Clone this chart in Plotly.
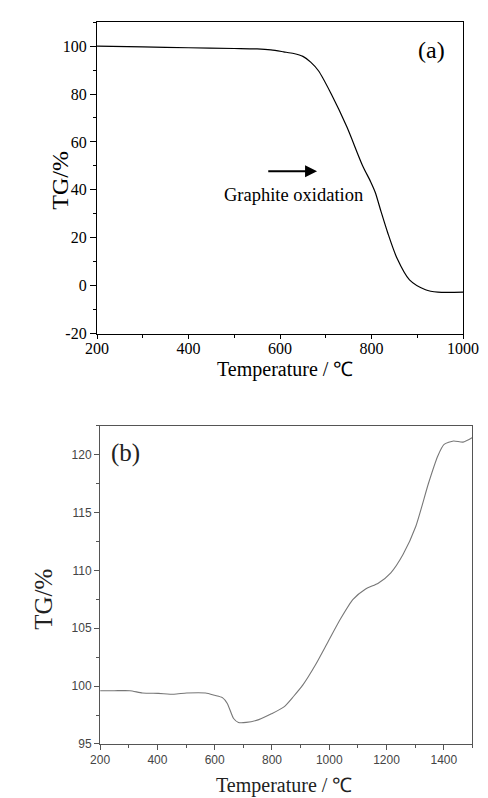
import plotly.graph_objects as go

# Panel (a)
temp_a = [200, 300, 400, 500, 550, 580, 608, 630, 650, 667, 684, 712, 746, 780, 798, 808, 821, 835, 856, 883, 918, 945, 1000]
tg_a = [100.0, 99.7, 99.3, 99.0, 98.8, 98.4, 97.6, 96.9, 95.7, 93.3, 89.7, 80.0, 66.3, 50.3, 43.4, 39.0, 30.8, 22.3, 11.3, 2.4, -1.7, -2.7, -2.7]

# Panel (b)
temp_b = [200, 249, 304, 348, 403, 458, 502, 568, 600, 627, 644, 666, 683, 710, 754, 798, 842, 875, 908, 951,
          995, 1039, 1083, 1127, 1171, 1215, 1258, 1302, 1346, 1379, 1401, 1434, 1467, 1500]
tg_b = [99.6, 99.6, 99.6, 99.4, 99.37, 99.3, 99.4, 99.4, 99.2, 99.0, 98.5, 97.2, 96.86, 96.86, 97.1, 97.6, 98.2,
        99.1, 100.1, 101.8, 103.8, 105.8, 107.5, 108.4, 108.9, 109.8, 111.4, 113.8, 117.5, 119.9, 120.9, 121.2,
        121.1, 121.5]

xticks_a = [200, 400, 600, 800, 1000]
yticks_a = [-20, 0, 20, 40, 60, 80, 100]
ytick_labels_a = ["-20", "0", "20", "40", "60", "80", "100"]
xticks_b = [200, 400, 600, 800, 1000, 1200, 1400]
yticks_b = [95, 100, 105, 110, 115, 120]

W, H = 488, 798
serif = "Liberation Serif"
sans = "Liberation Sans"

fig = go.Figure()
fig.add_trace(go.Scatter(x=temp_a, y=tg_a, mode="lines", line=dict(color="black", width=1.2, shape="spline", smoothing=0.8),
                         xaxis="x", yaxis="y", showlegend=False))
fig.add_trace(go.Scatter(x=temp_b, y=tg_b, mode="lines", line=dict(color="#777777", width=1.1, shape="spline", smoothing=0.6),
                         xaxis="x2", yaxis="y2", showlegend=False))

ax_common_a = dict(showgrid=False, zeroline=False, showline=True, linecolor="black", linewidth=1.3, mirror=True,
                   ticks="outside", tickwidth=1, tickcolor="black",
                   tickfont=dict(family=serif, size=16, color="black"))
ax_common_b = dict(showgrid=False, zeroline=False, showline=True, linecolor="#555555", linewidth=1.2, mirror=True,
                   ticks="outside", ticklen=5, tickwidth=1, tickcolor="#555555",
                   tickfont=dict(family=sans, size=12, color="#444444"))

fig.update_layout(
    width=W, height=H, margin=dict(l=0, r=0, t=0, b=0),
    paper_bgcolor="white", plot_bgcolor="white",
    xaxis=dict(domain=[81.7 / W, 470 / W], range=[200, 1000], tickvals=xticks_a, anchor="y", ticklen=4,
               ticklabelstandoff=-4,
               minor=dict(dtick=100, ticklen=3, ticks="outside", tickcolor="black"), **ax_common_a),
    yaxis=dict(domain=[1 - 329.3 / H, 1 - 14.3 / H], range=[-20, 110], tickvals=yticks_a, ticktext=ytick_labels_a,
               anchor="x", ticklen=6,
               minor=dict(dtick=10, ticklen=3, ticks="outside", tickcolor="black"), **ax_common_a),
    xaxis2=dict(domain=[85 / W, 480 / W], range=[200, 1500], tickvals=xticks_b, anchor="y2",
                minor=dict(dtick=100, ticklen=3, ticks="outside", tickcolor="#555555"), **ax_common_b),
    yaxis2=dict(domain=[1 - 744.3 / H, 1 - 422.7 / H], range=[95, 122.5], tickvals=yticks_b, anchor="x2",
                minor=dict(dtick=2.5, ticklen=3, ticks="outside", tickcolor="#555555"), **ax_common_b),
)

ann = []
# Axis titles (paper coordinates)
ann.append(dict(text="Temperature / ℃", x=281 / W, y=1 - 366 / H, xref="paper", yref="paper", showarrow=False,
                font=dict(family=serif, size=20, color="black"), xanchor="center", yanchor="middle"))
ann.append(dict(text="TG/%", x=42 / W, y=1 - 174 / H, xref="paper", yref="paper", showarrow=False, textangle=-90,
                font=dict(family=serif, size=24, color="black"), xanchor="center", yanchor="middle"))
ann.append(dict(text="Temperature / ℃", x=280 / W, y=1 - 786 / H, xref="paper", yref="paper", showarrow=False,
                font=dict(family=serif, size=20, color="#222222"), xanchor="center", yanchor="middle"))
ann.append(dict(text="TG/%", x=25 / W, y=1 - 598 / H, xref="paper", yref="paper", showarrow=False, textangle=-90,
                font=dict(family=serif, size=25, color="#222222"), xanchor="center", yanchor="middle"))
# Panel labels
ann.append(dict(text="(a)", x=437 / W, y=1 - 42 / H, xref="paper", yref="paper", showarrow=False,
                font=dict(family=serif, size=24, color="black"), xanchor="center", yanchor="middle"))
ann.append(dict(text="(b)", x=112 / W, y=1 - 450 / H, xref="paper", yref="paper", showarrow=False,
                font=dict(family=serif, size=25, color="#222222"), xanchor="center", yanchor="middle"))
# Arrow and text in panel (a)
ann.append(dict(x=681, y=47.8, ax=571, ay=47.8, xref="x", yref="y", axref="x", ayref="y", text="",
                showarrow=True, arrowhead=2, arrowsize=1.2, arrowwidth=2, arrowcolor="black"))
ann.append(dict(text="Graphite oxidation", x=629, y=37.7, xref="x", yref="y", showarrow=False,
                font=dict(family=serif, size=18.5, color="black"), xanchor="center", yanchor="middle"))
fig.update_layout(annotations=ann)

fig.write_html("out.html")
